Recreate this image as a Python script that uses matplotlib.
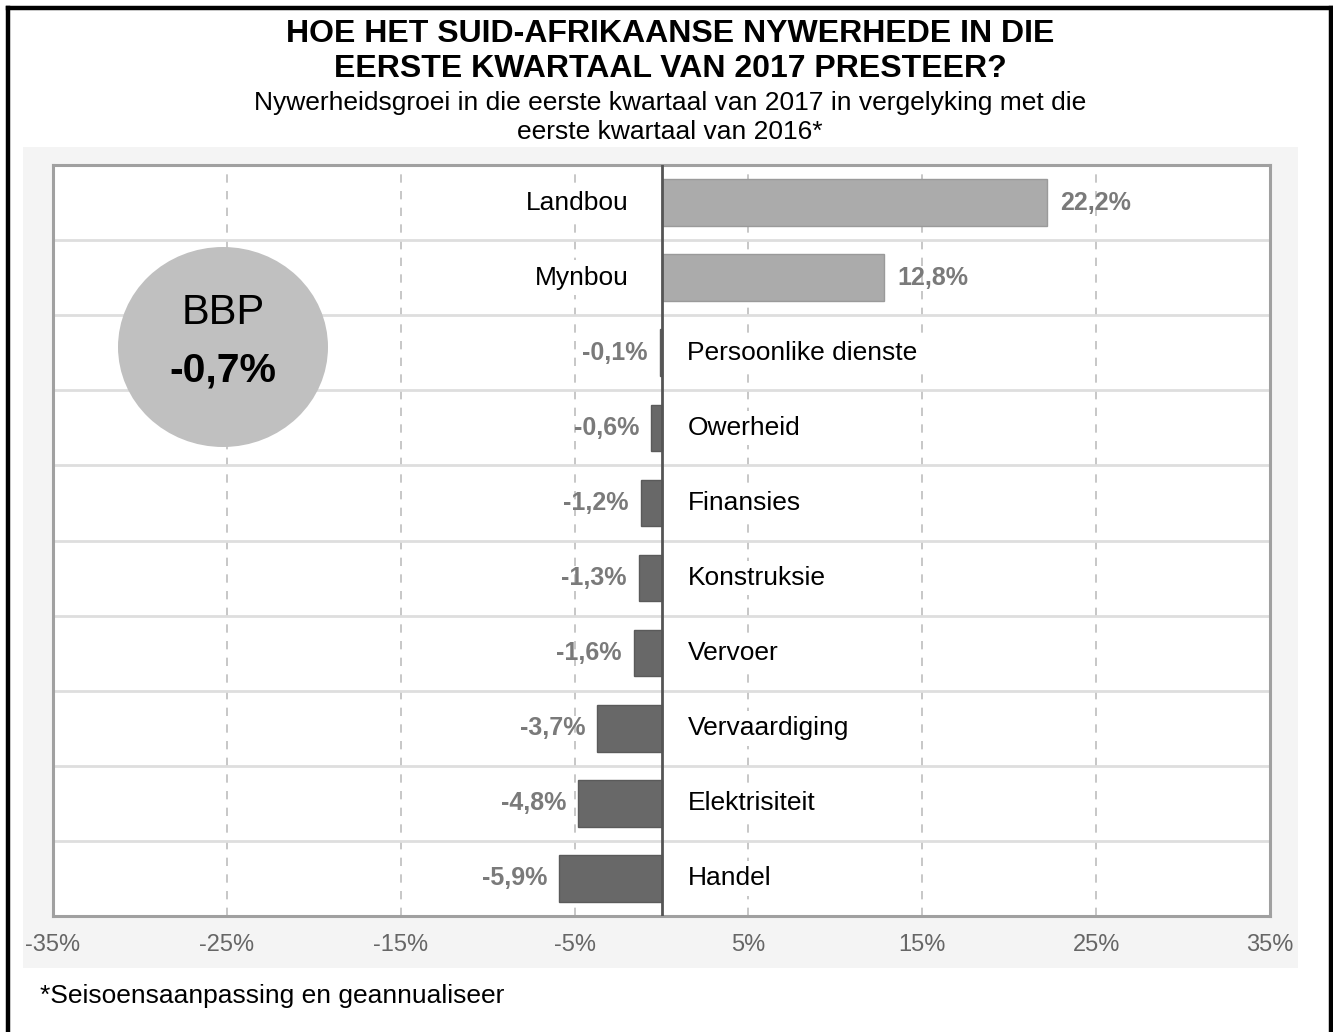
import matplotlib
matplotlib.use("Agg")
import matplotlib.pyplot as plt
from matplotlib.patches import Rectangle, Ellipse
from matplotlib.lines import Line2D
import numpy as np

plt.rcParams['font.family'] = ['Liberation Sans', 'DejaVu Sans']

# ---- data ----
categories = ["Landbou", "Mynbou", "Persoonlike dienste", "Owerheid", "Finansies",
              "Konstruksie", "Vervoer", "Vervaardiging", "Elektrisiteit", "Handel"]
values = [22.2, 12.8, -0.1, -0.6, -1.2, -1.3, -1.6, -3.7, -4.8, -5.9]
value_labels = ["22,2%", "12,8%", "-0,1%", "-0,6%", "-1,2%", "-1,3%", "-1,6%",
                "-3,7%", "-4,8%", "-5,9%"]
x_ticks = [-35, -25, -15, -5, 5, 15, 25, 35]
x_tick_labels = ["-35%", "-25%", "-15%", "-5%", "5%", "15%", "25%", "35%"]
title_lines = ["HOE HET SUID-AFRIKAANSE NYWERHEDE IN DIE", "EERSTE KWARTAAL VAN 2017 PRESTEER?"]
subtitle_lines = ["Nywerheidsgroei in die eerste kwartaal van 2017 in vergelyking met die",
                  "eerste kwartaal van 2016*"]
gdp_label = "BBP"
gdp_value = "-0,7%"
footnote = "*Seisoensaanpassing en geannualiseer"

W, H = 1333, 1032
fig = plt.figure(figsize=(W / 100, H / 100), dpi=100)
fig.patch.set_facecolor("white")

def fx(x):
    return x / W

def fy(y):
    return 1 - y / H

# outer black border (top, left, right)
for (x0, y0, x1, y1) in [(8, 8, 1331, 8), (8, 8, 8, H + 5), (1331, 8, 1331, H + 5)]:
    fig.add_artist(Line2D([fx(x0), fx(x1)], [fy(y0), fy(y1)], transform=fig.transFigure,
                          color="black", lw=3.2, solid_capstyle="projecting"))

# grey chart panel
fig.add_artist(Rectangle((fx(23), fy(968)), (1298 - 23) / W, (968 - 147) / H,
                         transform=fig.transFigure, facecolor="#f4f4f4", edgecolor="none", zorder=0))

# titles
cx = fx(670)
fig.text(cx, fy(42), title_lines[0], ha="center", va="baseline", fontsize=23, fontweight="bold")
fig.text(cx, fy(77), title_lines[1], ha="center", va="baseline", fontsize=23, fontweight="bold")
fig.text(cx, fy(110), subtitle_lines[0], ha="center", va="baseline", fontsize=19)
fig.text(cx, fy(139), subtitle_lines[1], ha="center", va="baseline", fontsize=19)

# axes
ax = fig.add_axes([fx(53), fy(916), (1270 - 53) / W, (916 - 165) / H])
ax.set_facecolor("white")
y = np.arange(len(categories))
colors = ["#ababab" if v > 0 else "#686868" for v in values]
edges = ["#9a9a9a" if v > 0 else "#5a5a5a" for v in values]
ax.barh(y, values, height=0.62, color=colors, edgecolor=edges, linewidth=1, zorder=3)

ax.set_xlim(-35, 35)
ax.set_ylim(len(categories) - 0.5, -0.5)
ax.set_xticks(x_ticks)
ax.set_xticklabels(x_tick_labels, fontsize=17, color="#666666")
ax.tick_params(axis="x", length=0, pad=13)
ax.set_yticks([])
ax.set_yticks(np.arange(0.5, len(categories) - 0.5, 1), minor=True)
ax.tick_params(axis="y", which="both", length=0, labelleft=False)
ax.grid(axis="y", which="minor", color="#dedede", lw=2, zorder=1)
ax.grid(axis="x", which="major", color="#bdbdbd", lw=1.2, ls=(0, (5, 5)), zorder=1)
ax.axvline(0, color="#555555", lw=2, zorder=5)
for s in ax.spines.values():
    s.set_color("#a0a0a0")
    s.set_linewidth(2.2)

for yi, v, lab, cat in zip(y, values, value_labels, categories):
    if v > 0:
        ax.annotate(lab, (v, yi), xytext=(9.4, 0), textcoords="offset points",
                    ha="left", va="center", fontsize=18, fontweight="bold", color="#7a7a7a", zorder=6)
        ax.annotate(cat, (0, yi), xytext=(-23.5, 0), textcoords="offset points",
                    ha="right", va="center", fontsize=19, color="black", zorder=6,
                    bbox=dict(boxstyle="square,pad=0.2", fc="white", ec="none"))
    else:
        ax.annotate(lab, (v, yi), xytext=(-8.6, 0), textcoords="offset points",
                    ha="right", va="center", fontsize=18, fontweight="bold", color="#7a7a7a", zorder=6)
        ax.annotate(cat, (0, yi), xytext=(18.7, 0), textcoords="offset points",
                    ha="left", va="center", fontsize=19, color="black", zorder=6,
                    bbox=dict(boxstyle="square,pad=0.2", fc="white", ec="none"))

# GDP ellipse
fig.add_artist(Ellipse((fx(223), fy(347)), 210 / W, 200 / H, transform=fig.transFigure,
                       facecolor="#c0c0c0", edgecolor="none", zorder=10))
fig.text(fx(223), fy(324), gdp_label, ha="center", va="baseline", fontsize=30, zorder=11)
fig.text(fx(223), fy(382), gdp_value, ha="center", va="baseline", fontsize=29.5,
         fontweight="bold", zorder=11)

# footnote
fig.text(fx(40), fy(1003), footnote, ha="left", va="baseline", fontsize=19)

fig.savefig("out.png", dpi=100, facecolor="white")
